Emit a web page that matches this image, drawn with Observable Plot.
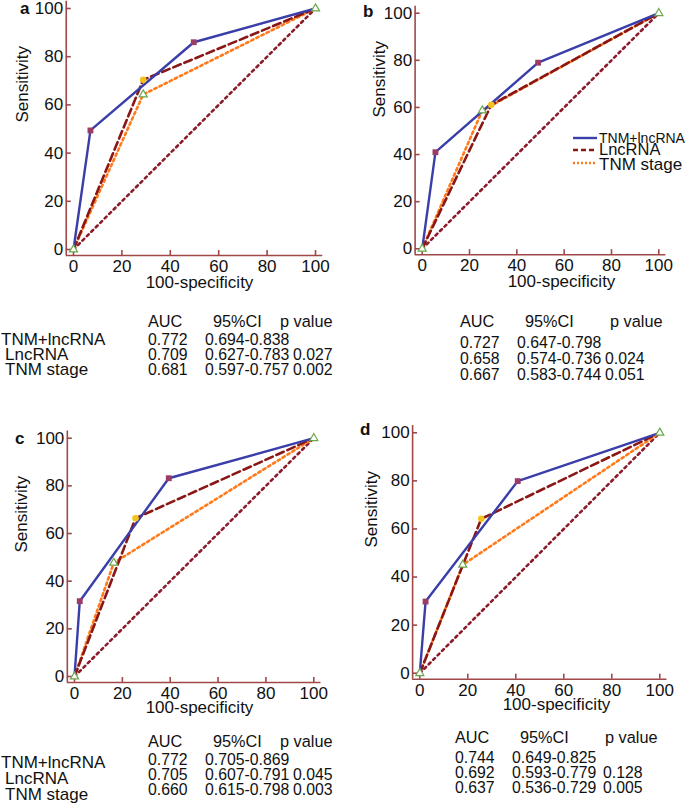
<!DOCTYPE html>
<html><head><meta charset="utf-8">
<script src="https://cdn.jsdelivr.net/npm/d3@7"></script>
<script src="https://cdn.jsdelivr.net/npm/@observablehq/plot@0.6"></script>
<style>
body{margin:0;background:#fff;}
#root{position:relative;width:685px;height:805px;overflow:hidden;font-family:"Liberation Sans",Arial,sans-serif;background:#fff;}
#root svg{position:absolute;}
</style></head><body><div id="root"></div>
<script>
// ---------- data ----------
const panelNames = ["a", "b", "c", "d"];
const seriesNames = ["TNM+lncRNA", "LncRNA", "TNM stage"];
const xTicks = [0, 20, 40, 60, 80, 100];
const yTicks = [0, 20, 40, 60, 80, 100];
const xTitle = "100-specificity";
const yTitle = "Sensitivity";
// TNM+lncRNA (solid)
const comboX = [[0, 7, 49.7, 100], [0, 5.6, 49, 100], [0, 2.2, 39.4, 100], [0, 2.4, 40.8, 100]];
const comboY = [[0, 49.4, 86, 100], [0, 41, 79, 100], [0, 31.6, 83.2, 100], [0, 29.8, 79.9, 100]];
// LncRNA (dashed)
const lncX = [[0, 28.8, 100], [0, 29.2, 100], [0, 25.5, 100], [0, 25.6, 100]];
const lncY = [[0, 70.4, 100], [0, 61.1, 100], [0, 66.4, 100], [0, 64.2, 100]];
// TNM stage (dotted)
const tnmX = [[0, 28.8, 100], [0, 25.4, 100], [0, 16.4, 100], [0, 17.9, 100]];
const tnmY = [[0, 64.3, 100], [0, 58.7, 100], [0, 47.7, 100], [0, 45.1, 100]];
// reference diagonal
const refX = [0, 100];
const refY = [0, 100];
// tables
const tableHeader = ["AUC", "95%CI", "p value"];
const aucValues = [["0.772", "0.709", "0.681"], ["0.727", "0.658", "0.667"], ["0.772", "0.705", "0.660"], ["0.744", "0.692", "0.637"]];
const ciValues = [["0.694-0.838", "0.627-0.783", "0.597-0.757"], ["0.647-0.798", "0.574-0.736", "0.583-0.744"], ["0.705-0.869", "0.607-0.791", "0.615-0.798"], ["0.649-0.825", "0.593-0.779", "0.536-0.729"]];
const pValues = [["", "0.027", "0.002"], ["", "0.024", "0.051"], ["", "0.045", "0.003"], ["", "0.128", "0.005"]];
const showRowLabels = [true, false, true, false];

// ---------- layout (page pixels) ----------
const layout = [
  {left: 0, top: 0, w: 340, h: 300, x0: 73, x100: 315, y100: 8, y0: 249, yT: [27.6, 122], xT: [199, 293], letter: [20, 14]},
  {left: 340, top: 0, w: 345, h: 300, x0: 421.7, x100: 658.3, y100: 12.7, y0: 248.3, yT: [384.6, 117], xT: [561, 292], letter: [363, 17]},
  {left: 0, top: 400, w: 340, h: 330, x0: 74, x100: 313.3, y100: 437.7, y0: 676, yT: [26.6, 552], xT: [199, 718], letter: [15, 444]},
  {left: 340, top: 400, w: 345, h: 330, x0: 419.3, x100: 659.3, y100: 432.3, y0: 672.7, yT: [376.6, 547], xT: [556, 715], letter: [360, 435]}
];
const tableLayout = [
  {hdrY: 327, hdrX: [148, 213, 280], rowY: [345, 360, 375], labY: [345, 360, 375], colX: [148, 205, 293]},
  {hdrY: 327, hdrX: [460, 525, 610], rowY: [348, 364, 380], labY: [], colX: [460, 517, 605]},
  {hdrY: 747, hdrX: [148, 213, 280], rowY: [765, 780, 795], labY: [768, 784, 800], colX: [148, 205, 293]},
  {hdrY: 743, hdrX: [455, 520, 605], rowY: [763, 778, 793], labY: [], colX: [455, 512, 603]}
];
const labelX = [1, 5, 5];

const axisColor = "#a04848";
const cCombo = "#3a3ea8", cLnc = "#8b1616", cTnm = "#ff7a1a", cRef = "#8b1c2c";
const FONT = "Liberation Sans, Arial, Helvetica, sans-serif";
const TICK_FS = 17;
const root = document.getElementById("root");

function panelPlot(i) {
  const L = layout[i];
  const kx = (L.x100 - L.x0) / 100, ky = (L.y0 - L.y100) / 100;
  const xd = [-3, 103], yd = [-2.5, 103];
  const fl = L.x0 + xd[0] * kx, fr = L.x0 + xd[1] * kx;
  const ft = L.y0 - yd[1] * ky, fb = L.y0 - yd[0] * ky;
  const combo = comboX[i].map((x, j) => ({x, y: comboY[i][j], j}));
  const lnc = lncX[i].map((x, j) => ({x, y: lncY[i][j], j}));
  const tnm = tnmX[i].map((x, j) => ({x, y: tnmY[i][j], j}));
  const ref = refX.map((x, j) => ({x, y: refY[j]}));
  const interior = (arr) => arr.filter(d => d.j > 0 && d.j < arr.length - 1);
  const svg = Plot.plot({
    width: L.w, height: L.h,
    marginLeft: fl - L.left, marginRight: L.left + L.w - fr,
    marginTop: ft - L.top, marginBottom: L.top + L.h - fb,
    x: {domain: xd, label: null},
    y: {domain: yd, label: null},
    style: {fontFamily: FONT, fontSize: TICK_FS + "px", color: "#111", background: "transparent", overflow: "visible"},
    marks: [
      Plot.ruleX([xd[0]], {stroke: axisColor, strokeWidth: 1.6}),
      Plot.ruleY([yd[0]], {stroke: axisColor, strokeWidth: 1.6}),
      Plot.axisX({ticks: xTicks, tickSize: 5, dy: -5, stroke: axisColor, strokeWidth: 1.6, tickFormat: () => "", label: null}),
      Plot.axisX({ticks: xTicks, tickSize: 0, tickPadding: 4.5, fontSize: TICK_FS, fill: "#111", label: null}),
      Plot.axisY({ticks: yTicks, tickSize: 5, dx: 5, stroke: axisColor, strokeWidth: 1.6, tickFormat: () => "", label: null}),
      Plot.axisY({ticks: yTicks, tickSize: 0, tickPadding: 3, fontSize: TICK_FS, fill: "#111", label: null}),
      Plot.line(ref, {x: "x", y: "y", stroke: cRef, strokeWidth: 2.6, strokeDasharray: "2.5,3.8"}),
      Plot.line(tnm, {x: "x", y: "y", stroke: cTnm, strokeWidth: 2.6, strokeDasharray: "2.5,3.2"}),
      Plot.line(lnc, {x: "x", y: "y", stroke: cLnc, strokeWidth: 2.6, strokeDasharray: "8,4"}),
      Plot.line(combo, {x: "x", y: "y", stroke: cCombo, strokeWidth: 2.4}),
      Plot.dot(interior(combo), {x: "x", y: "y", symbol: "square", r: 3.3, fill: "#9b3c66"}),
      Plot.dot(interior(lnc), {x: "x", y: "y", r: 3.3, fill: "#f4c21c"}),
      Plot.dot(tnm, {x: "x", y: "y", symbol: "triangle", r: 3, stroke: "#6aa84f", fill: "white", strokeWidth: 1.2}),
      Plot.text([yTitle], {text: d => d, frameAnchor: "left", rotate: -90, fontSize: 17, fill: "#111",
        dx: L.yT[0] - 0.32 * 17 - fl, dy: L.yT[1] - (ft + fb) / 2}),
      Plot.text([xTitle], {text: d => d, frameAnchor: "bottom", fontSize: 17, fill: "#111",
        dx: L.xT[0] - (fl + fr) / 2, dy: L.xT[1] - 0.32 * 17 - fb})
    ]
  });
  svg.style.left = L.left + "px";
  svg.style.top = L.top + "px";
  svg.setAttribute("aria-label", "ROC panel " + panelNames[i]);
  root.appendChild(svg);
}
for (let i = 0; i < 4; i++) panelPlot(i);

// ---------- overlay: panel letters, legend, tables ----------
const ov = d3.select(root).append("svg")
  .attr("width", 685).attr("height", 805)
  .style("left", "0px").style("top", "0px")
  .style("font-family", FONT).style("fill", "#111");

layout.forEach((L, i) => {
  ov.append("text").attr("x", L.letter[0]).attr("y", L.letter[1])
    .attr("font-size", 17).attr("font-weight", "bold").text(panelNames[i]);
});

// legend (panel b)
const legendY = [138, 150, 163];
const legendTextY = [143, 155, 170];
const legendSize = [14, 16.5, 17];
const legendStroke = [cCombo, cLnc, cTnm];
const legendDash = [null, "5,3", "2,2"];
seriesNames.forEach((s, k) => {
  ov.append("line").attr("x1", 573).attr("x2", 597).attr("y1", legendY[k]).attr("y2", legendY[k])
    .attr("stroke", legendStroke[k]).attr("stroke-width", 2.4).attr("stroke-dasharray", legendDash[k]);
  ov.append("text").attr("x", 599).attr("y", legendTextY[k]).attr("font-size", legendSize[k]).text(s);
});

// tables
tableLayout.forEach((T, i) => {
  tableHeader.forEach((h, c) => {
    ov.append("text").attr("x", T.hdrX[c]).attr("y", T.hdrY).attr("font-size", 16.3).text(h);
  });
  for (let r = 0; r < 3; r++) {
    if (showRowLabels[i]) {
      ov.append("text").attr("x", labelX[r]).attr("y", T.labY[r]).attr("font-size", 17).text(seriesNames[r]);
    }
    ov.append("text").attr("x", T.colX[0]).attr("y", T.rowY[r]).attr("font-size", 15.8).text(aucValues[i][r]);
    ov.append("text").attr("x", T.colX[1]).attr("y", T.rowY[r]).attr("font-size", 15.8).text(ciValues[i][r]);
    if (pValues[i][r]) ov.append("text").attr("x", T.colX[2]).attr("y", T.rowY[r]).attr("font-size", 15.8).text(pValues[i][r]);
  }
});
</script></body></html>
